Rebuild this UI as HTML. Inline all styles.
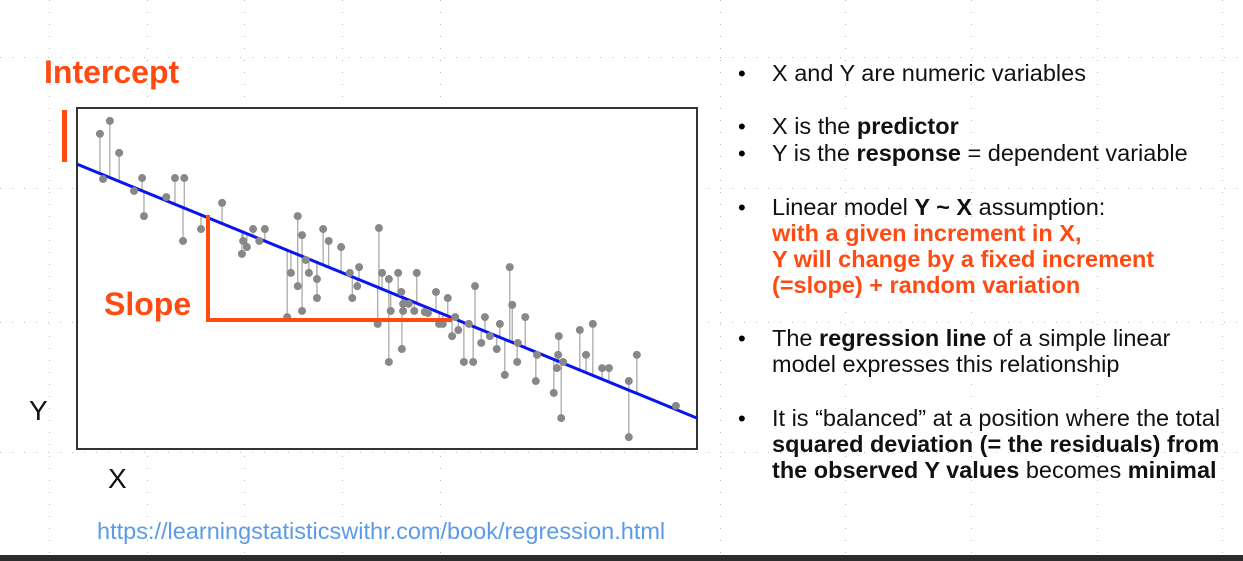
<!DOCTYPE html>
<html><head><meta charset="utf-8"><style>
html,body{margin:0;padding:0;background:#fff;}
body{width:1243px;height:561px;position:relative;overflow:hidden;font-family:"Liberation Sans",sans-serif;}
.t{position:absolute;white-space:nowrap;font-size:23.5px;color:#111;}
.r{color:#ff4a12;font-weight:bold;}
.bul{position:absolute;font-size:22px;}
</style></head><body>
<svg id="chart" width="1243" height="561" style="position:absolute;left:0;top:0">
<g id="grid"></g>
<rect x="77" y="108" width="620" height="341" fill="#fff" stroke="#333" stroke-width="2"/>
<g id="marks"></g>
<rect x="62" y="110" width="5" height="52" fill="#ff4a12"/>
<polyline points="208,215 208,320 452,320" fill="none" stroke="#ff4a12" stroke-width="4"/>
<rect x="0" y="555" width="1243" height="6" fill="#2b2b2b"/>
</svg>
<div class="t r" style="left:44px;top:54px;font-size:32px">Intercept</div>
<div class="t r" style="left:104px;top:286px;font-size:32px">Slope</div>
<div class="t" style="left:29px;top:395px;font-size:28px">Y</div>
<div class="t" style="left:108px;top:463px;font-size:28px">X</div>
<div class="t" style="left:97px;top:518px;color:#5b9be6">https://learningstatisticswithr.com/book/regression.html</div>
<div>
<div class="bul" style="left:738px;top:61px">•</div><div class="t" style="left:772px;top:60px">X and Y are numeric variables</div>
<div class="bul" style="left:738px;top:114px">•</div><div class="t" style="left:772px;top:113px">X is the <b>predictor</b></div>
<div class="bul" style="left:738px;top:141px">•</div><div class="t" style="left:772px;top:140px">Y is the <b>response</b> = dependent variable</div>
<div class="bul" style="left:738px;top:195px">•</div><div class="t" style="left:772px;top:194px">Linear model <b>Y ~ X</b> assumption:</div>
<div class="t r" style="left:772px;top:220px">with a given increment in X,</div>
<div class="t r" style="left:772px;top:246px">Y will change by a fixed increment</div>
<div class="t r" style="left:772px;top:272px">(=slope) + random variation</div>
<div class="bul" style="left:738px;top:326px">•</div><div class="t" style="left:772px;top:325px">The <b>regression line</b> of a simple linear</div>
<div class="t" style="left:772px;top:351px">model expresses this relationship</div>
<div class="bul" style="left:738px;top:406px">•</div><div class="t" style="left:772px;top:405px">It is “balanced” at a position where the total</div>
<div class="t" style="left:772px;top:431px"><b>squared deviation (= the residuals) from</b></div>
<div class="t" style="left:772px;top:457px"><b>the observed Y values</b> becomes <b>minimal</b></div>
</div>
<script>
const xVals=[3.7,5.3,6.8,4.2,9.2,10.5,10.8,14.4,15.8,17.3,17.1,20.0,23.4,26.8,27.4,26.6,28.4,29.4,30.3,35.6,36.3,34.5,35.6,36.3,33.9,36.9,37.4,38.7,38.7,39.7,40.6,42.6,44.4,44.0,45.5,45.2,48.7,49.2,48.5,50.3,50.6,50.3,51.8,52.3,52.6,52.4,52.6,53.5,54.4,54.8,56.1,56.6,57.9,58.4,59.0,59.8,60.5,61.0,61.5,62.4,63.2,63.9,64.2,65.2,65.8,66.6,67.7,68.2,69.0,69.8,70.2,71.0,71.1,72.3,74.0,74.2,76.9,77.4,77.7,77.6,78.1,78.4,81.1,82.1,83.2,84.7,85.8,89.0,89.0,90.3,96.6];
const yVals=[92.4,96.2,86.8,79.1,75.6,79.4,68.2,73.8,79.4,79.4,60.9,64.4,72.1,60.9,59.1,57.1,64.4,60.9,64.4,68.2,62.6,51.5,47.6,40.3,38.5,55.3,51.5,49.7,44.1,64.4,60.9,59.1,44.1,51.5,53.2,47.6,64.7,51.5,36.5,49.7,40.3,25.3,51.5,45.9,42.4,29.1,40.3,42.4,40.3,51.5,40.0,39.7,45.9,36.5,36.5,44.1,32.9,38.5,34.7,25.3,36.5,25.3,47.6,30.9,38.5,32.9,29.1,36.5,21.5,53.2,42.1,25.3,30.9,38.5,19.7,27.4,16.2,23.5,32.9,27.4,8.8,25.3,34.7,27.4,36.5,23.5,23.5,19.7,3.2,27.4,12.4];
const intercept=83.5;
const slope=-0.747;
const xDomain=[0,100];
const yDomain=[0,100];
const X0=77,X1=697,Y0=448,Y1=108;
const xs=v=>X0+(v-xDomain[0])/(xDomain[1]-xDomain[0])*(X1-X0);
const ys=v=>Y0-(v-yDomain[0])/(yDomain[1]-yDomain[0])*(Y0-Y1);
const NS="http://www.w3.org/2000/svg";
const marks=document.getElementById('marks');
function mk(t,a){const e=document.createElementNS(NS,t);for(const k in a)e.setAttribute(k,a[k]);return e;}
const grid=document.getElementById('grid');
const gx=[49,147,244,342,440,720,845,971,1097,1222];
const gy=[57,188,322,452];
for(let y=0;y<561;y+=12)for(const x of gx){const d=mk('rect',{x:x,y:y,width:1,height:1,fill:'#bbb'});grid.appendChild(d);}
for(const y of gy)for(let x=0;x<1243;x+=12){const d=mk('rect',{x:x,y:y,width:1,height:1,fill:'#bbb'});grid.appendChild(d);}
xVals.forEach((xv,i)=>{
  const yf=intercept+slope*xv;
  const l=mk('line',{x1:xs(xv),x2:xs(xv),y1:ys(yVals[i]),y2:ys(yf),stroke:'#aaa','stroke-width':1.3});
  
  
  marks.appendChild(l);
});
const rl=mk('line',{x1:xs(xDomain[0]),y1:ys(intercept+slope*xDomain[0]),x2:xs(xDomain[1]),y2:ys(intercept+slope*xDomain[1]),stroke:'#0a14ee','stroke-width':3});


marks.appendChild(rl);
xVals.forEach((xv,i)=>{
  const c=mk('circle',{cx:xs(xv),cy:ys(yVals[i]),r:4,fill:'#888'});
  
  
  marks.appendChild(c);
});
</script>
</body></html>
